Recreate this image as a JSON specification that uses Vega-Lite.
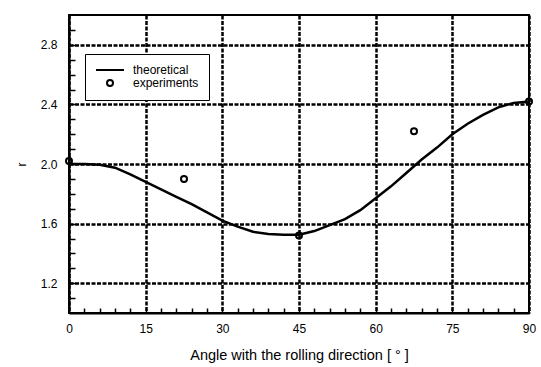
{
  "$schema": "https://vega.github.io/schema/vega-lite/v6.json",
  "width": 460,
  "height": 298,
  "autosize": {"type": "none"},
  "padding": {"left": 69, "top": 15, "right": 12, "bottom": 54},
  "background": "white",
  "config": {
    "view": {"stroke": "black", "strokeWidth": 2},
    "font": "Liberation Sans"
  },
  "datasets": {
    "theory": [
      {"angle": 0, "r": 2.0}, {"angle": 3, "r": 2.0}, {"angle": 6, "r": 1.995},
      {"angle": 9, "r": 1.975}, {"angle": 12, "r": 1.93}, {"angle": 15, "r": 1.88},
      {"angle": 18, "r": 1.83}, {"angle": 21, "r": 1.78}, {"angle": 24, "r": 1.73},
      {"angle": 27, "r": 1.675}, {"angle": 30, "r": 1.62}, {"angle": 33, "r": 1.58},
      {"angle": 36, "r": 1.545}, {"angle": 39, "r": 1.53}, {"angle": 42, "r": 1.525},
      {"angle": 45, "r": 1.525}, {"angle": 48, "r": 1.55}, {"angle": 51, "r": 1.59},
      {"angle": 54, "r": 1.63}, {"angle": 57, "r": 1.69}, {"angle": 60, "r": 1.77},
      {"angle": 63, "r": 1.85}, {"angle": 66, "r": 1.94}, {"angle": 69, "r": 2.03},
      {"angle": 72, "r": 2.11}, {"angle": 75, "r": 2.2}, {"angle": 78, "r": 2.27},
      {"angle": 81, "r": 2.33}, {"angle": 84, "r": 2.38}, {"angle": 87, "r": 2.41},
      {"angle": 90, "r": 2.42}
    ],
    "exp": [
      {"angle": 0, "r": 2.02, "series": "experiments"},
      {"angle": 22.5, "r": 1.9, "series": "experiments"},
      {"angle": 45, "r": 1.52, "series": "experiments"},
      {"angle": 67.5, "r": 2.22, "series": "experiments"},
      {"angle": 90, "r": 2.42, "series": "experiments"}
    ]
  },
  "resolve": {"axis": {"x": "independent", "y": "independent"}},
  "layer": [
    {
      "data": {"name": "theory"},
      "mark": {"type": "line", "color": "black", "strokeWidth": 2.5},
      "encoding": {
        "x": {
          "field": "angle", "type": "quantitative",
          "scale": {"domain": [0, 90], "nice": false, "zero": false},
          "axis": {
            "orient": "bottom",
            "title": "Angle with the rolling direction [ ° ]",
            "values": [0, 15, 30, 45, 60, 75, 90],
            "labelOverlap": false,
            "labelFlush": false,
            "labelFont": "Liberation Sans",
            "labelFontSize": 12,
            "labelColor": "black",
            "labelPadding": 10,
            "ticks": false,
            "domainColor": "black",
            "domainWidth": 2,
            "grid": true,
            "gridColor": "black",
            "gridWidth": 2.5,
            "gridDash": [4, 1.5],
            "titleFont": "Liberation Sans",
            "titleFontSize": 14.5,
            "titleFontWeight": "normal",
            "titleColor": "black",
            "titlePadding": 14
          }
        },
        "y": {
          "field": "r", "type": "quantitative",
          "scale": {"domain": [1.0, 3.0], "nice": false, "zero": false},
          "axis": {
            "orient": "left",
            "title": "r",
            "values": [1.2, 1.6, 2.0, 2.4, 2.8],
            "format": ".1f",
            "labelOverlap": false,
            "labelFlush": false,
            "labelFont": "Liberation Sans",
            "labelFontSize": 12,
            "labelColor": "black",
            "labelPadding": 12,
            "ticks": false,
            "domainColor": "black",
            "domainWidth": 2,
            "grid": true,
            "gridColor": "black",
            "gridWidth": 2.5,
            "gridDash": [4, 1.5],
            "titleFont": "Liberation Sans",
            "titleFontSize": 12,
            "titleFontWeight": "normal",
            "titleColor": "black",
            "titlePadding": 12
          }
        }
      }
    },
    {
      "data": {"name": "exp"},
      "mark": {"type": "point", "filled": false, "color": "black", "strokeWidth": 2, "size": 100, "opacity": 1},
      "encoding": {
        "x": {
          "field": "angle", "type": "quantitative",
          "axis": {
            "orient": "bottom",
            "title": null,
            "offset": -5,
            "values": [3,6,9,12,15,18,21,24,27,30,33,36,39,42,45,48,51,54,57,60,63,66,69,72,75,78,81,84,87],
            "labels": false,
            "domain": false,
            "grid": false,
            "ticks": true,
            "tickColor": "black",
            "tickOpacity": 1,
            "tickWidth": 1.5,
            "tickSize": 5
          }
        },
        "y": {
          "field": "r", "type": "quantitative",
          "axis": {
            "orient": "left",
            "title": null,
            "offset": -6,
            "values": [1.1,1.2,1.3,1.4,1.5,1.6,1.7,1.8,1.9,2.0,2.1,2.2,2.3,2.4,2.5,2.6,2.7,2.8,2.9],
            "labels": false,
            "domain": false,
            "grid": false,
            "ticks": true,
            "tickColor": "black",
            "tickOpacity": 1,
            "tickWidth": 1.5,
            "tickSize": 6
          }
        },
        "shape": {
          "field": "series", "type": "nominal",
          "scale": {
            "domain": ["theoretical", "experiments"],
            "range": ["M-2.8,0L2.8,0", "M0.6,0A0.6,0.6,0,1,1,-0.6,0A0.6,0.6,0,1,1,0.6,0Z"]
          },
          "legend": {
            "title": null,
            "orient": "none",
            "legendX": 16,
            "legendY": 39,
            "padding": 10,
            "strokeColor": "black",
            "fillColor": "white",
            "labelFont": "Liberation Sans",
            "labelFontSize": 12,
            "labelColor": "black",
            "labelOffset": 17,
            "symbolOffset": 9,
            "symbolSize": 100,
            "rowPadding": 0,
            "symbolStrokeColor": "black",
            "symbolStrokeWidth": 2,
            "symbolOpacity": 1,
            "encode": {
              "legend": {"strokeWidth": {"value": 1.5}}
            }
          }
        }
      }
    }
  ]
}
